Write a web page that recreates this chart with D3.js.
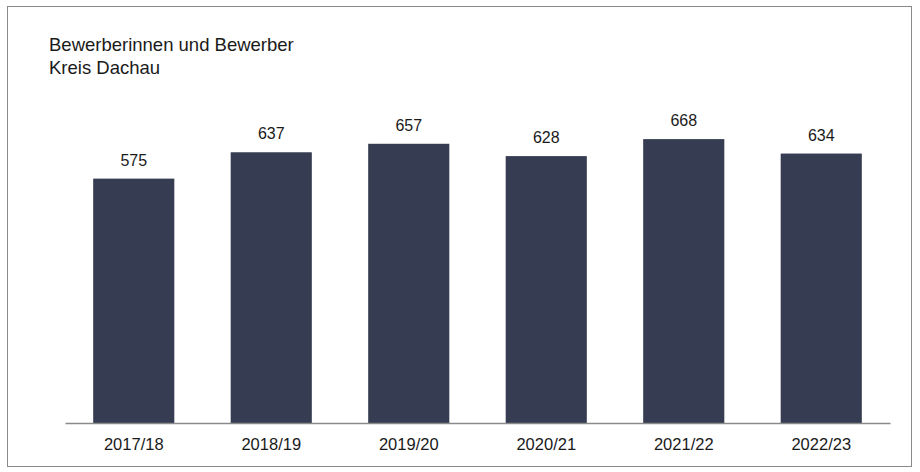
<!DOCTYPE html>
<html>
<head>
<meta charset="utf-8">
<script src="https://cdn.jsdelivr.net/npm/d3@7"></script>
<style>
  body { margin: 0; background: #fff; }
  text { font-family: "Liberation Sans", Arial, sans-serif; fill: #1a1a1a; }
</style>
</head>
<body>
<script>
var years = ["2017/18", "2018/19", "2019/20", "2020/21", "2021/22", "2022/23"];
var values = [575, 637, 657, 628, 668, 634];
var titleLines = ["Bewerberinnen und Bewerber", "Kreis Dachau"];

var w = 920;
var h = 472;
var baseY = 423;

var svg = d3.select("body")
            .append("svg")
            .attr("width", w)
            .attr("height", h);

//frame
svg.append("rect")
    .attr("x", 7.5).attr("y", 6.5)
    .attr("width", 904).attr("height", 460)
    .attr("fill", "none")
    .attr("stroke", "#8a8a8a")
    .attr("stroke-width", 1);

//title
svg.selectAll(".title")
    .data(titleLines)
    .enter()
    .append("text")
    .attr("class", "title")
    .attr("x", 49)
    .attr("y", function(d, i){ return 51 + i * 22.5; })
    .style("font-size", "18.5px")
    .text(function(d){ return d; });

var xScale = d3.scaleBand()
            .domain(years)
            .range([65, 890])
            .paddingInner(0.41)
            .paddingOuter(0.205);

var yScale = d3.scaleLinear()
           .domain([0, 700])
           .range([baseY, baseY - 297.5]);

//bars
svg.selectAll(".bar")
    .data(values)
    .enter()
    .append("rect")
    .attr("class", "bar")
    .attr("x", function(d, i){ return xScale(years[i]); })
    .attr("y", function(d){ return yScale(d); })
    .attr("width", xScale.bandwidth())
    .attr("height", function(d){ return baseY - yScale(d); })
    .attr("fill", "#363d52");

//value labels
svg.selectAll(".val")
    .data(values)
    .enter()
    .append("text")
    .attr("class", "val")
    .attr("x", function(d, i){ return xScale(years[i]) + xScale.bandwidth() / 2; })
    .attr("y", function(d){ return yScale(d) - 13; })
    .attr("text-anchor", "middle")
    .style("font-size", "16px")
    .text(function(d){ return d; });

//x axis
var xAxis = svg.append("g")
    .attr("transform", "translate(0," + baseY + ")")
    .call(d3.axisBottom(xScale).tickSize(0).tickPadding(15));

xAxis.select(".domain").attr("stroke", "#8a8a8a").attr("stroke-width", 1.5);
xAxis.selectAll("text")
    .style("font-size", "16.5px")
    .style("font-family", "'Liberation Sans', Arial, sans-serif")
    .attr("fill", "#1a1a1a");
</script>
</body>
</html>
